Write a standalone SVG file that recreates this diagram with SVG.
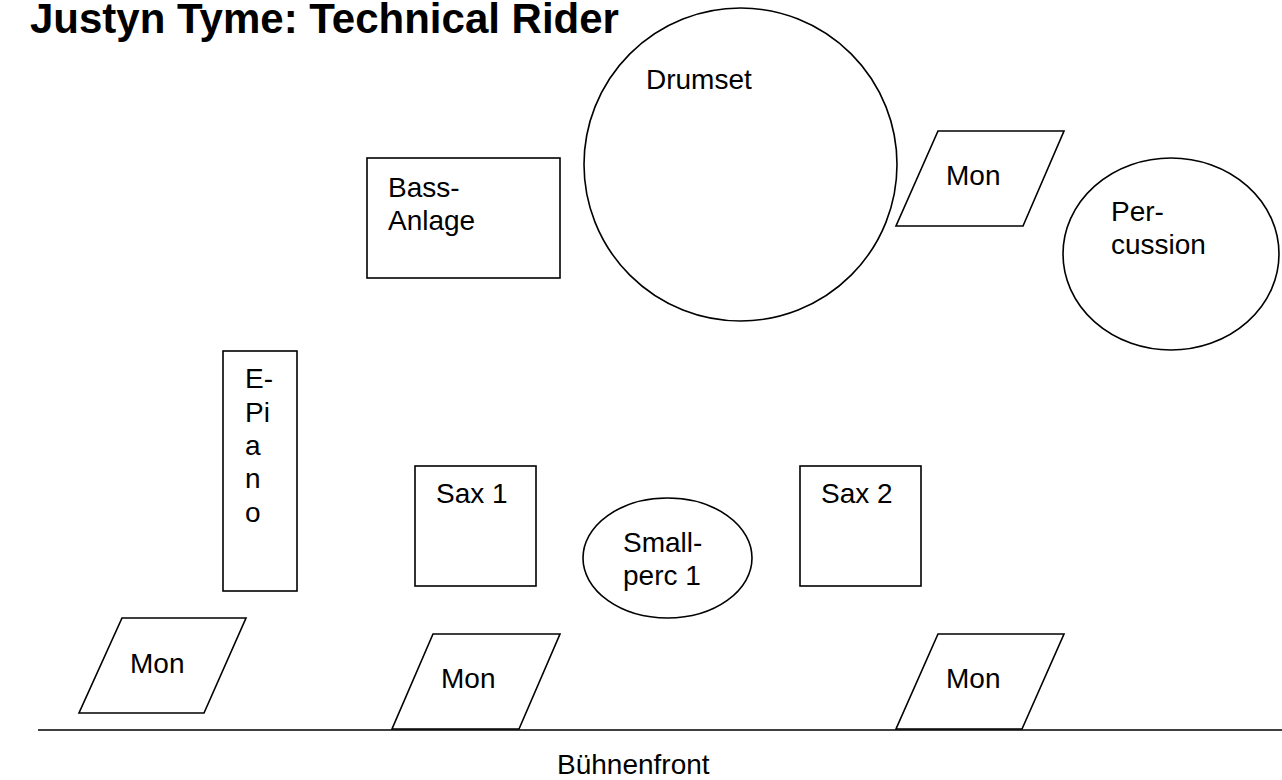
<svg xmlns="http://www.w3.org/2000/svg" width="1282" height="780" viewBox="0 0 1282 780">
<style>
.s{fill:#fff;stroke:#000;stroke-width:1.6}
.t{font-family:"Liberation Sans",Arial,sans-serif;font-size:28px;fill:#000}
.h{font-family:"Liberation Sans",Arial,sans-serif;font-size:42px;font-weight:bold;fill:#000}
</style>
<rect width="1282" height="780" fill="#fff"/>
<text class="h" x="30" y="33">Justyn Tyme: Technical Rider</text>
<g id="drumset"><circle class="s" cx="740.5" cy="164.5" r="156.5"/><text class="t" x="646" y="89">Drumset</text></g>
<g id="bass"><rect class="s" x="367" y="158" width="193" height="120"/><text class="t" x="388" y="197">Bass-</text><text class="t" x="388" y="230">Anlage</text></g>
<g id="mon-drums"><polygon class="s" points="938,131 1064,131 1023,226 896,226"/><text class="t" x="946" y="185">Mon</text></g>
<g id="percussion"><ellipse class="s" cx="1171" cy="254" rx="108" ry="96"/><text class="t" x="1111" y="221">Per-</text><text class="t" x="1111" y="254">cussion</text></g>
<g id="epiano"><rect class="s" x="223" y="351" width="74" height="240"/><text class="t" x="245" y="388">E-</text><text class="t" x="245" y="422">Pi</text><text class="t" x="245" y="455">a</text><text class="t" x="245" y="488">n</text><text class="t" x="245" y="522">o</text></g>
<g id="sax1"><rect class="s" x="415" y="466" width="121" height="120"/><text class="t" x="436" y="503">Sax 1</text></g>
<g id="smallperc"><ellipse class="s" cx="667.5" cy="558" rx="84.5" ry="60"/><text class="t" x="623" y="552">Small-</text><text class="t" x="623" y="585">perc 1</text></g>
<g id="sax2"><rect class="s" x="800" y="466" width="121" height="120"/><text class="t" x="821" y="503">Sax 2</text></g>
<g id="mon-left"><polygon class="s" points="122,618 246,618 204,713 79,713"/><text class="t" x="130" y="673">Mon</text></g>
<g id="mon-center"><polygon class="s" points="433,634 560,634 519,729 392,729"/><text class="t" x="441" y="688">Mon</text></g>
<g id="mon-right"><polygon class="s" points="938,634 1064,634 1022,729 896,729"/><text class="t" x="946" y="688">Mon</text></g>
<g id="connectors"><line x1="38" y1="730" x2="1282" y2="730" stroke="#000" stroke-width="1.6"/></g>
<text class="t" x="557" y="774">Bühnenfront</text>
</svg>
